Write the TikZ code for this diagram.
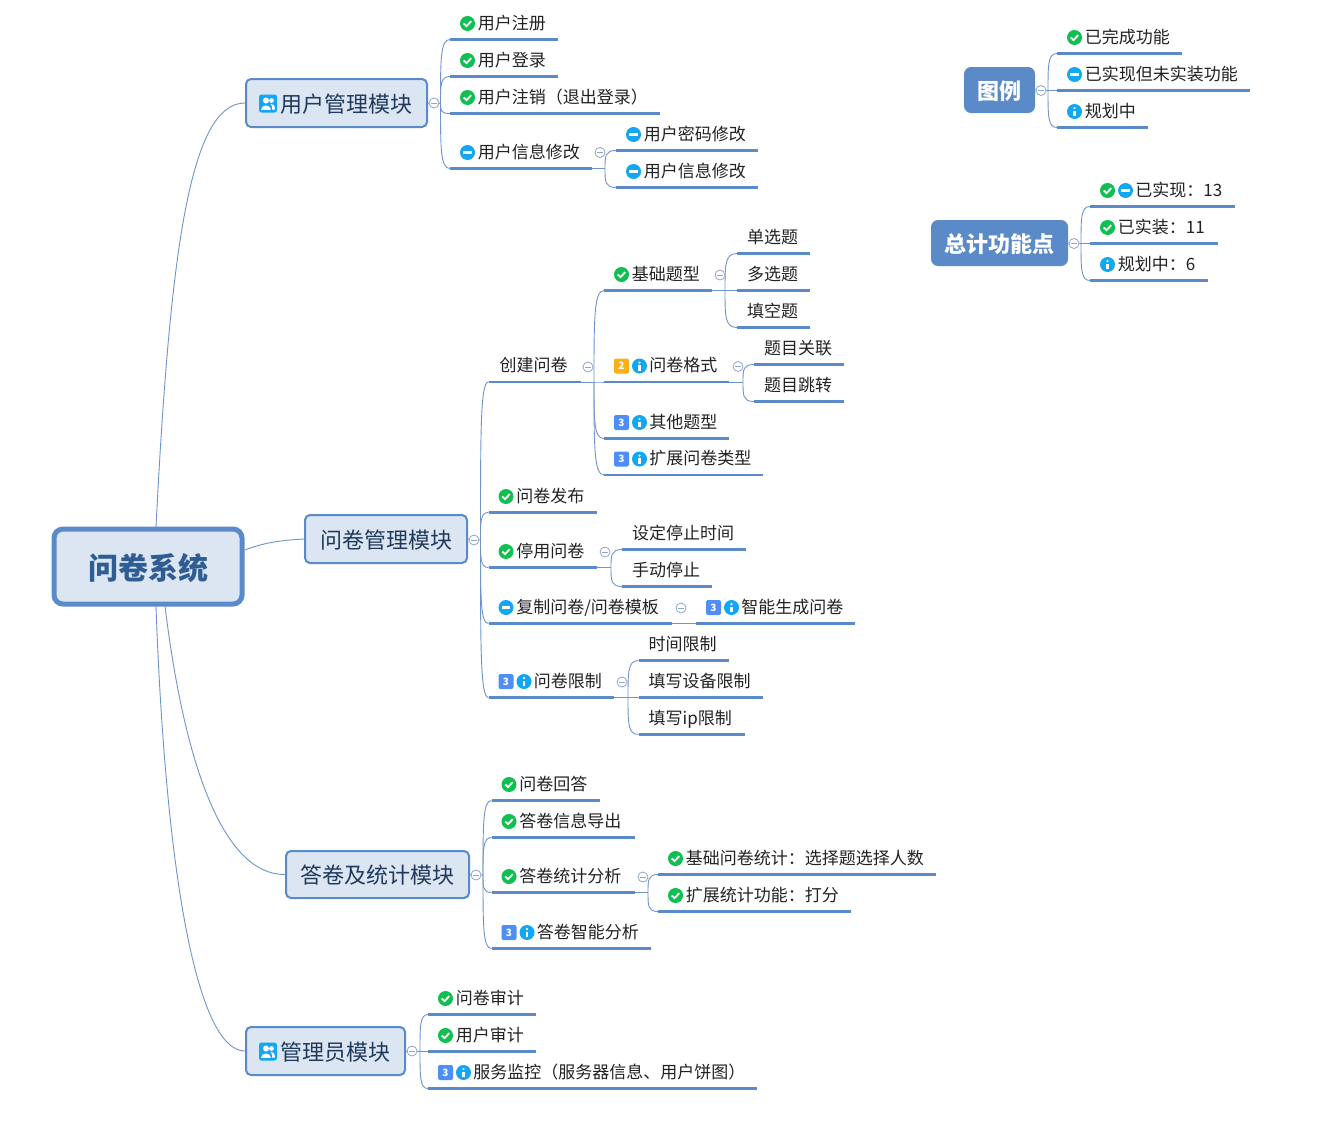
\documentclass[tikz,border=0pt]{standalone}
\usepackage{fontspec}
\setmainfont{Noto Sans CJK SC}
\usetikzlibrary{calc,backgrounds}
\definecolor{bluemain}{HTML}{5B8AC8}
\definecolor{boxfill}{HTML}{DCE6F2}
\definecolor{navy}{HTML}{1F3A5C}
\definecolor{rootink}{HTML}{2F5D93}
\definecolor{connc}{HTML}{6F94CC}
\definecolor{foldc}{HTML}{8FA6C8}
\definecolor{okg}{HTML}{0FC050}
\definecolor{infoc}{HTML}{12A7F5}
\definecolor{bthree}{HTML}{4F8EF7}
\definecolor{btwo}{HTML}{FBB016}
\definecolor{inkc}{HTML}{222222}
\tikzset{
  leafnode/.style={anchor=south west,inner xsep=0pt,inner ysep=6.5pt,text height=13pt,text depth=3.5pt,
    font=\fontsize{17}{20}\selectfont,text=inkc,align=left},
  leafline/.style={draw=bluemain,line width=2.7pt},
  conn/.style={draw=connc,line width=0.9pt},
  foldnode/.style={circle,draw=foldc,fill=white,line width=0.8pt,minimum size=10pt,inner sep=0pt,
    path picture={\draw[foldc,line width=0.8pt] ($(path picture bounding box.center)+(-3,0)$) -- ($(path picture bounding box.center)+(3,0)$);}},
  mainbox/.style={rectangle,rounded corners=5pt,draw=bluemain,fill=boxfill,line width=2pt,text=navy,
    font=\fontsize{22}{26}\selectfont,inner sep=0pt,text height=22pt,text depth=3.5pt},
  rootbox/.style={rectangle,rounded corners=9pt,draw=bluemain,fill=boxfill,line width=5pt,text=rootink,
    font=\fontsize{30}{34}\selectfont\bfseries,inner sep=0pt,text height=30pt,text depth=4.2pt},
  solidbox/.style={rectangle,rounded corners=7pt,fill=bluemain,text=white,
    font=\fontsize{22}{26}\selectfont\bfseries,inner sep=0pt,text height=22pt,text depth=3.5pt},
  badgenum/.style={text=white,font=\fontsize{10}{10}\selectfont\bfseries,inner sep=0pt}
}
% icons
\newcommand\icnone[3]{}
\newcommand\icok[3]{\begin{scope}[shift={(#1,#2)}]\fill[okg] (0,0) circle (7.5pt);
  \draw[white,line width=1.8pt] (-3.8,0) -- (-1,2.6) -- (3.8,-2.4);\end{scope}}
\newcommand\icmin[3]{\begin{scope}[shift={(#1,#2)}]\fill[infoc] (0,0) circle (7.5pt);
  \fill[white] (-4.2,-1.1) rectangle (4.2,1.1);\end{scope}}
\newcommand\icinf[3]{\begin{scope}[shift={(#1,#2)}]\fill[infoc] (0,0) circle (7.5pt);
  \fill[white] (-1.1,-1) rectangle (1.1,4.8);\fill[white] (0,-3.4) circle (1.3pt);\end{scope}}
\newcommand\icthree[3]{\fill[bthree,rounded corners=2pt] (#1-7.5,#2-7.5) rectangle (#1+7.5,#2+7.5);
  \node[badgenum] (#3) at (#1,#2) {3};}
\newcommand\ictwo[3]{\fill[btwo,rounded corners=2pt] (#1-7.5,#2-7.5) rectangle (#1+7.5,#2+7.5);
  \node[badgenum] (#3) at (#1,#2) {2};}
\newcommand\icperson[2]{\begin{scope}[shift={(#1,#2)}]
  \fill[infoc,rounded corners=2.5pt] (-9,-9) rectangle (9,9);
  \fill[white] (-2,-3) circle (3pt);
  \fill[white] (-7,6) .. controls (-7,0) and (3,0) .. (3,6) -- cycle;
  \fill[white] (3.5,-3) circle (2.4pt);
  \fill[white] (4,6) .. controls (4.5,2) and (3,1) .. (2.5,0.5) .. controls (5,-0.5) and (7,2) .. (7,6) -- cycle;
  \end{scope}}
% \leaf{name}{x1}{x2}{yline}{number of icons}{icons}{text}
\newcommand\leaf[7]{%
  \pgfmathsetmacro\lw{#3-#2}%
  \pgfmathsetmacro\lo{10+17.6*#5}%
  \node[leafnode,text width=\lw pt] (#1) at (#2,#4) {\hspace*{\lo pt}#7};
  \draw[leafline] (#1.south west) -- (#1.south east);
  \foreach \ic [count=\k] in {#6}{%
    \pgfmathsetmacro\cx{#2+17.5+(\k-1)*18}%
    \pgfmathsetmacro\cy{#4-16}%
    \csname ic\ic\endcsname{\cx}{\cy}{#1-i\k}%
  }%
}
% \branch{start}{fork}{children}
\newcommand\branch[3]{%
  \draw[conn] (#1) -- (#2);
  \foreach \c in {#3}{%
    \draw[conn] (#2) .. controls ($(#2)!0.7!(#2 |- \c.south west)$) and (#2 |- \c.south west) .. (\c.south west);
  }%
}
\newcommand\fold[3]{\node[foldnode] (#1) at (#2,#3) {};}
\begin{document}
\begin{tikzpicture}[x=1pt,y=-1pt]
\useasboundingbox (0,0) rectangle (1332,1146);
% boxes
\node[rootbox,minimum width=188pt,minimum height=75pt] (root) at (148,566.5) {问卷系统};
\node[mainbox,minimum width=181pt,minimum height=48pt] (usr) at (336.5,103) {\hspace*{19pt}用户管理模块};
\node[mainbox,minimum width=162pt,minimum height=48pt] (qn) at (386,539) {问卷管理模块};
\node[mainbox,minimum width=183pt,minimum height=47pt] (ans) at (377.5,874.5) {答卷及统计模块};
\node[mainbox,minimum width=159pt,minimum height=48pt] (adm) at (325.5,1051) {\hspace*{19pt}管理员模块};
\icperson{268}{103.5}
\icperson{268}{1051.5}
\node[solidbox,minimum width=71pt,minimum height=46pt] (leg) at (999.5,90) {图例};
\node[solidbox,minimum width=137pt,minimum height=46pt] (tot) at (999.5,243) {总计功能点};
% user module
\leaf{ua}{450}{558}{39.5}{1}{ok}{用户注册}
\leaf{ub}{450}{558}{76.5}{1}{ok}{用户登录}
\leaf{uc}{450}{660}{113.5}{1}{ok}{用户注销（退出登录）}
\leaf{ud}{450}{592}{168.5}{1}{min}{用户信息修改}
\leaf{ue}{616}{758}{150.5}{1}{min}{用户密码修改}
\leaf{uf}{616}{758}{187.5}{1}{min}{用户信息修改}
% questionnaire module
\leaf{qa}{488.5}{581}{382}{0}{none}{\hspace*{1pt}创建问卷}
\leaf{qb}{604}{712}{290.5}{1}{ok}{基础题型}
\leaf{qc}{737}{810}{253.5}{0}{none}{单选题}
\leaf{qd}{737}{810}{290.5}{0}{none}{多选题}
\leaf{qe}{737}{810}{327.5}{0}{none}{填空题}
\leaf{qf}{604}{729}{382}{2}{two,inf}{问卷格式}
\leaf{qg}{754}{844}{364.5}{0}{none}{题目关联}
\leaf{qh}{754}{844}{401.5}{0}{none}{题目跳转}
\leaf{qi}{604}{729}{438.5}{2}{three,inf}{其他题型}
\leaf{qj}{604}{763}{475}{2}{three,inf}{扩展问卷类型}
\leaf{qk}{488.5}{597}{512.5}{1}{ok}{问卷发布}
\leaf{ql}{488.5}{597}{567.5}{1}{ok}{停用问卷}
\leaf{qm}{622}{746}{549.5}{0}{none}{设定停止时间}
\leaf{qn2}{622}{712}{586.5}{0}{none}{手动停止}
\leaf{qo}{488.5}{672}{623.5}{1}{min}{复制问卷/问卷模板}
\leaf{qp}{696}{855}{623.5}{2}{three,inf}{智能生成问卷}
\leaf{qq}{488.5}{614}{697.5}{2}{three,inf}{问卷限制}
\leaf{qr}{638.5}{729}{660.5}{0}{none}{时间限制}
\leaf{qs}{638.5}{763}{697.5}{0}{none}{填写设备限制}
\leaf{qt}{638.5}{745}{734.5}{0}{none}{填写ip限制}
% answers module
\leaf{aa}{491.5}{600}{800.5}{1}{ok}{问卷回答}
\leaf{ab}{491.5}{635}{837.5}{1}{ok}{答卷信息导出}
\leaf{ac}{491.5}{635}{892.5}{1}{ok}{答卷统计分析}
\leaf{ad}{658}{936}{874.5}{1}{ok}{基础问卷统计：选择题选择人数}
\leaf{ae}{658}{851}{911.5}{1}{ok}{扩展统计功能：打分}
\leaf{af}{491.5}{651}{948.5}{2}{three,inf}{答卷智能分析}
% admin module
\leaf{da}{428}{536}{1014.5}{1}{ok}{问卷审计}
\leaf{db}{428}{536}{1051.5}{1}{ok}{用户审计}
\leaf{dc}{428}{757}{1088.5}{2}{three,inf}{服务监控（服务器信息、用户饼图）}
% legend
\leaf{la}{1057}{1182}{53.5}{1}{ok}{已完成功能}
\leaf{lb}{1057}{1250}{90.5}{1}{min}{已实现但未实装功能}
\leaf{lc}{1057}{1148}{127.5}{1}{inf}{规划中}
\leaf{ta}{1090}{1235}{206.5}{2}{ok,min}{已实现：13}
\leaf{tb}{1090}{1218}{243.5}{1}{ok}{已实装：11}
\leaf{tc}{1090}{1208}{280.5}{1}{inf}{规划中：6}
% fold marks
\fold{f1}{434}{103}
\fold{f2}{600}{152.5}
\fold{f3}{474}{540}
\fold{f4}{588}{367}
\fold{f5}{720}{275}
\fold{f6}{738}{366.5}
\fold{f7}{605}{552}
\fold{f8}{681}{608}
\fold{f9}{622}{682}
\fold{f10}{476}{875}
\fold{f11}{643}{877}
\fold{f12}{412}{1051}
\fold{f13}{1041}{90.5}
\fold{f14}{1074}{243.5}
% connectors
\begin{scope}[on background layer]
\fill[white] (0,0) rectangle (1332,1146);
\coordinate (r1) at (156,527);
\coordinate (r2) at (245,550);
\coordinate (r3) at (165,606);
\coordinate (r4) at (156,606);
\draw[conn] (r1) .. controls (170,250) and (190,103) .. (usr.west);
\draw[conn] (r2) .. controls (265,542) and (285,540) .. (qn.west);
\draw[conn] (r3) .. controls (185,770) and (225,875) .. (ans.west);
\draw[conn] (r4) .. controls (165,860) and (195,1051) .. (adm.west);
\coordinate (k1) at (440.5,103);
\coordinate (k2) at (605,168.5);
\coordinate (k3) at (480.5,540);
\coordinate (k4) at (594,382);
\coordinate (k5) at (725,290.5);
\coordinate (k6) at (743,382);
\coordinate (k7) at (611,567.5);
\coordinate (k9) at (628,697.5);
\coordinate (k10) at (483,875);
\coordinate (k11) at (648,892.5);
\coordinate (k12) at (420,1051);
\coordinate (k13) at (1048,90.5);
\coordinate (k14) at (1081,243.5);
\branch{usr.east}{k1}{ua,ub,uc,ud}
\branch{ud.south east}{k2}{ue,uf}
\branch{qn.east}{k3}{qa,qk,ql,qo,qq}
\branch{qa.south east}{k4}{qb,qf,qi,qj}
\branch{qb.south east}{k5}{qc,qd,qe}
\branch{qf.south east}{k6}{qg,qh}
\branch{ql.south east}{k7}{qm,qn2}
\draw[conn] (qo.south east) -- (qp.south west);
\branch{qq.south east}{k9}{qr,qs,qt}
\branch{ans.east}{k10}{aa,ab,ac,af}
\branch{ac.south east}{k11}{ad,ae}
\branch{adm.east}{k12}{da,db,dc}
\branch{leg.east}{k13}{la,lb,lc}
\branch{tot.east}{k14}{ta,tb,tc}
\end{scope}
\end{tikzpicture}
\end{document}
